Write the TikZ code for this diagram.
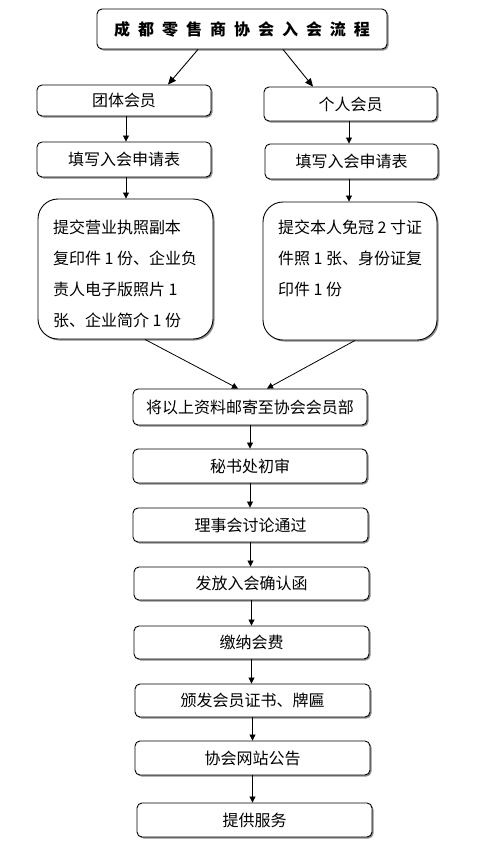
\documentclass[tikz,border=0pt]{standalone}
\usepackage{fontspec}
\setmainfont{Noto Sans CJK SC}
\usetikzlibrary{arrows.meta,shadows,calc}
\begin{document}
\begin{tikzpicture}[x=1pt,y=-1pt,
  box/.style={draw=black, line width=0.9pt, rounded corners=5pt, fill=white, inner sep=0pt,
    font=\fontsize{16}{18}\selectfont,
    drop shadow={shadow xshift=1.5pt, shadow yshift=-1.5pt, fill=black!45, opacity=1}},
  bigbox/.style={box, rounded corners=20pt, inner xsep=15pt, inner ysep=0pt},
  arr/.style={draw, line width=0.8pt, -{Triangle[length=6pt,width=6pt]}},
  tarr/.style={draw, line width=0.9pt, -{Triangle[length=8pt,width=7pt]}},
]
\useasboundingbox (0,0) rectangle (480,847);
\fill[white] (0,0) rectangle (480,847);

\node[box, minimum width=290pt, minimum height=40pt, font=\fontsize{16}{18}\selectfont\bfseries] (title) at (242,29)
  {成\hspace{8pt}都\hspace{8pt}零\hspace{8pt}售\hspace{8pt}商\hspace{8pt}协\hspace{8pt}会\hspace{8pt}入\hspace{8pt}会\hspace{8pt}流\hspace{8pt}程};

\node[box, minimum width=174pt, minimum height=31pt] (g1) at (124,100.5) {团体会员};
\node[box, minimum width=173pt, minimum height=34pt] (p1) at (350.5,104) {个人会员};
\node[box, minimum width=174pt, minimum height=35pt] (g2) at (124,159.5) {填写入会申请表};
\node[box, minimum width=173pt, minimum height=35pt] (p2) at (351.5,161.5) {填写入会申请表};

\node[bigbox] (g3) at (125.5,269)
  {\parbox[c][140pt][t]{145pt}{\vspace*{21pt}\fontsize{16}{31}\selectfont
   提交营业执照副本\\复印件 1 份、企业负\\责人电子版照片 1\\张、企业简介 1 份}};
\node[bigbox] (p3) at (350,271)
  {\parbox[c][138pt][t]{144pt}{\vspace*{18pt}\fontsize{16}{31}\selectfont
   提交本人免冠 2 寸证\\件照 1 张、身份证复\\印件 1 份}};

\node[box, minimum width=234pt, minimum height=36pt] (m1) at (250,407) {将以上资料邮寄至协会会员部};
\node[box, minimum width=234pt, minimum height=34pt] (m2) at (250,466) {秘书处初审};
\node[box, minimum width=235pt, minimum height=34pt] (m3) at (250.5,525) {理事会讨论通过};
\node[box, minimum width=235pt, minimum height=33pt] (m4) at (251.5,583.5) {发放入会确认函};
\node[box, minimum width=235pt, minimum height=33pt] (m5) at (251.5,642.5) {缴纳会费};
\node[box, minimum width=235pt, minimum height=33pt] (m6) at (252.5,700.5) {颁发会员证书、牌匾};
\node[box, minimum width=235pt, minimum height=34pt] (m7) at (252.5,758) {协会网站公告};
\node[box, minimum width=235pt, minimum height=34pt] (m8) at (254.5,820) {提供服务};

\draw[tarr] ([xshift=-44pt]title.south) -- ([xshift=44pt]g1.north);
\draw[tarr] ([xshift=41pt]title.south) -- ([xshift=-37.5pt]p1.north);

\draw[arr] ([xshift=2pt]g1.south) -- ([xshift=2pt]g1.south |- g2.north);
\draw[arr] ([xshift=2pt]g2.south) -- ([xshift=2pt]g2.south |- g3.north);
\draw[arr] ([xshift=-1.5pt]p1.south) -- ([xshift=-1.5pt]p1.south |- p2.north);
\draw[arr] ([xshift=-2.5pt]p2.south) -- ([xshift=-2.5pt]p2.south |- p3.north);

\draw[arr] ([xshift=19.5pt]g3.south) -- ([xshift=-12pt]m1.north);
\draw[arr] ([xshift=5pt]p3.south) -- ([xshift=17pt]m1.north);

\draw[arr] (m1.south) -- (m1.south |- m2.north);
\draw[arr] (m2.south) -- (m2.south |- m3.north);
\draw[arr] (m3.south) -- (m3.south |- m4.north);
\draw[arr] (m4.south) -- (m4.south |- m5.north);
\draw[arr] (m5.south) -- (m5.south |- m6.north);
\draw[arr] (m6.south) -- (m6.south |- m7.north);
\draw[arr] (m7.south) -- (m7.south |- m8.north);
\end{tikzpicture}
\end{document}
